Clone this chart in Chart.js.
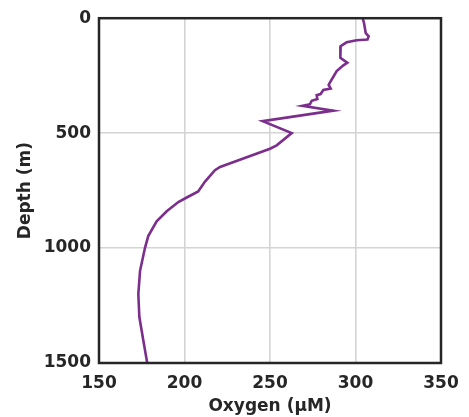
<!DOCTYPE html>
<html>
<head>
<meta charset="utf-8">
<script src="https://cdn.jsdelivr.net/npm/chart.js@4/dist/chart.umd.min.js"></script>
<style>
  html, body { margin: 0; padding: 0; background: #fff; }
  #wrap { width: 469px; height: 417px; }
</style>
</head>
<body>
<div id="wrap"><canvas id="perfil" width="469" height="417"></canvas></div>
<script>
const profundidad = [0, 22, 65, 79, 93, 96, 105, 122, 151, 172, 194, 205, 230, 259, 280, 290, 306, 312, 330, 335, 352, 359, 374, 381, 402, 448, 500, 553, 568, 647, 661, 711, 754, 780, 800, 840, 884, 948, 999, 1099, 1200, 1300, 1401, 1500];
const oxigeno = [304.2, 305, 306, 307.7, 307, 300.7, 294.8, 291.3, 291, 291.3, 295.2, 292.9, 289, 286.7, 285, 284.3, 285.5, 281.2, 279.6, 277.3, 277.7, 274.4, 273.4, 268.9, 287, 245.7, 262.7, 253.9, 250, 220.8, 217.8, 212, 208, 201.3, 196.4, 189.6, 183.7, 178.8, 176.9, 174, 173, 173.6, 175.9, 178.2];
const ticksX = [150, 200, 250, 300, 350];
const ticksY = [0, 500, 1000, 1500];

const puntos = oxigeno.map((o, i) => ({ x: o, y: profundidad[i] }));
const oscuro = '#262626';
const fuente = { family: 'DejaVu Sans', size: 17, weight: 'bold' };

// Marco completo alrededor del area
const marco = {
  id: 'marco',
  afterDatasetsDraw(chart) {
    const a = chart.chartArea;
    const ctx = chart.ctx;
    ctx.save();
    ctx.strokeStyle = oscuro;
    ctx.lineWidth = 2.5;
    ctx.strokeRect(a.left, a.top, a.right - a.left, a.bottom - a.top);
    ctx.restore();
  }
};

new Chart(document.getElementById('perfil'), {
  type: 'scatter',
  data: {
    datasets: [{
      data: puntos,
      showLine: true,
      borderColor: '#7B2E8C',
      borderWidth: 2.6,
      pointRadius: 0,
      tension: 0
    }]
  },
  options: {
    responsive: false,
    animation: false,
    layout: { padding: { top: 13, right: 28, left: 0, bottom: 0 } },
    plugins: { legend: { display: false }, tooltip: { enabled: false } },
    scales: {
      x: {
        type: 'linear',
        min: 150, max: 350,
        afterBuildTicks: s => { s.ticks = ticksX.map(v => ({ value: v })); },
        afterFit: s => { s.height = 54; },
        grid: { color: '#d4d4d4', lineWidth: 1.6, drawTicks: false },
        border: { display: false },
        ticks: { color: oscuro, font: fuente, padding: 10, maxRotation: 0, callback: v => String(v) },
        title: { display: true, text: 'Oxygen (μM)', color: oscuro, font: fuente, padding: { top: 0, bottom: 0 } }
      },
      y: {
        type: 'linear',
        reverse: true,
        min: 0, max: 1500,
        afterBuildTicks: s => { s.ticks = ticksY.map(v => ({ value: v })); },
        afterFit: s => { s.width = 99; },
        grid: { color: '#d4d4d4', lineWidth: 1.6, drawTicks: false },
        border: { display: false },
        ticks: { color: oscuro, font: fuente, padding: 8, callback: v => String(v) },
        title: { display: true, text: 'Depth (m)', color: oscuro, font: fuente, padding: { top: 15, bottom: 0 } }
      }
    }
  },
  plugins: [marco]
});
</script>
</body>
</html>
